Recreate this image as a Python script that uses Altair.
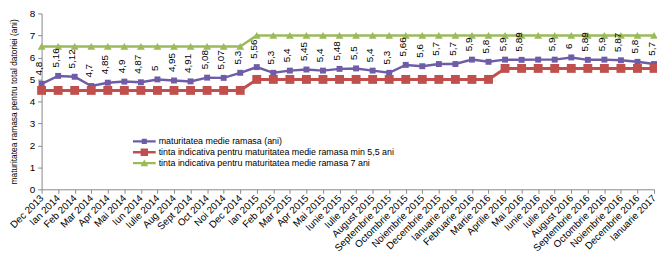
import altair as alt
import pandas as pd

categories = ["Dec 2013", "Ian 2014", "Feb 2014", "Mar 2014", "Apr 2014", "Mai 2014",
              "Iun 2014", "Iulie 2014", "Aug 2014", "Sept 2014", "Oct 2014", "Noi 2014",
              "Dec 2014", "Ian 2015", "Feb 2015", "Mar 2015", "Apr 2015", "Mai 2015",
              "Iunie 2015", "Iulie 2015", "August 2015", "Septembrie 2015", "Octombrie 2015",
              "Noiembrie 2015", "Decembrie 2015", "Ianuarie 2016", "Februarie 2016",
              "Martie 2016", "Aprilie 2016", "Mai 2016", "Iunie 2016", "Iulie 2016",
              "August 2016", "Septembrie 2016", "Octombrie 2016", "Noiembrie 2016",
              "Decembrie 2016", "Ianuarie 2017"]

maturitate = [4.8, 5.16, 5.12, 4.7, 4.85, 4.9, 4.87, 5.0, 4.95, 4.91, 5.08, 5.07,
              5.3, 5.56, 5.3, 5.4, 5.45, 5.4, 5.48, 5.5, 5.4, 5.3, 5.66, 5.6, 5.7,
              5.7, 5.9, 5.8, 5.9, 5.89, 5.9, 5.9, 6.0, 5.89, 5.9, 5.87, 5.8, 5.7]

value_labels = ["4,8", "5,16", "5,12", "4,7", "4,85", "4,9", "4,87", "5", "4,95", "4,91", "5,08", "5,07",
                "5,3", "5,56", "5,3", "5,4", "5,45", "5,4", "5,48", "5,5", "5,4", "5,3", "5,66", "5,6", "5,7",
                "5,7", "5,9", "5,8", "5,9", "5,89", "", "5,9", "6", "5,89", "5,9", "5,87", "5,8", "5,7"]

tinta_min = [4.5, 4.5, 4.5, 4.5, 4.5, 4.5, 4.5, 4.5, 4.5, 4.5, 4.5, 4.5,
             4.5, 5.0, 5.0, 5.0, 5.0, 5.0, 5.0, 5.0, 5.0, 5.0, 5.0, 5.0, 5.0,
             5.0, 5.0, 5.0, 5.5, 5.5, 5.5, 5.5, 5.5, 5.5, 5.5, 5.5, 5.5, 5.5]

tinta_7 = [6.5, 6.5, 6.5, 6.5, 6.5, 6.5, 6.5, 6.5, 6.5, 6.5, 6.5, 6.5,
           6.5, 7.0, 7.0, 7.0, 7.0, 7.0, 7.0, 7.0, 7.0, 7.0, 7.0, 7.0, 7.0,
           7.0, 7.0, 7.0, 7.0, 7.0, 7.0, 7.0, 7.0, 7.0, 7.0, 7.0, 7.0, 7.0]

series = ["maturitatea medie ramasa  (ani)",
          "tinta indicativa pentru maturitatea medie ramasa min 5,5 ani",
          "tinta indicativa pentru maturitatea medie ramasa  7 ani"]
colors = ["#6E5DA6", "#C0504D", "#9BBB59"]
marker_shapes = ["square", "square", "triangle-up"]
marker_sizes = [36, 81, 64]
line_widths = [2.5, 3, 2.5]
legend_paths = [
    "M-4,-0.43H4V0.43H-4Z M-0.9,-0.9H0.9V0.9H-0.9Z",
    "M-4,-0.43H4V0.43H-4Z M-1.3,-1.3H1.3V1.3H-1.3Z",
    "M-4,-0.43H4V0.43H-4Z M0,-1.3L1.35,1.1H-1.35Z",
]

rows = []
for i, c in enumerate(categories):
    rows.append(dict(cat=c, series=series[0], value=maturitate[i], label=value_labels[i]))
    rows.append(dict(cat=c, series=series[1], value=tinta_min[i], label=""))
    rows.append(dict(cat=c, series=series[2], value=tinta_7[i], label=""))
df = pd.DataFrame(rows)

FONT = "Liberation Sans"

x = alt.X("cat:N", sort=categories,
          scale=alt.Scale(type="point", padding=0),
          axis=alt.Axis(title=None, labelAngle=-45, labelAlign="right", labelBaseline="middle",
                        labelFontSize=10, labelFont=FONT, labelColor="#000",
                        labelPadding=3, tickSize=4, tickColor="#888", domainColor="#888",
                        labelOverlap=False, labelLimit=200))
y = alt.Y("value:Q",
          scale=alt.Scale(domain=[0, 8], nice=False, zero=True),
          axis=alt.Axis(values=[0, 1, 2, 3, 4, 5, 6, 7, 8], grid=False,
                        title="maturitatea ramasa pentru total datoriei  (ani)",
                        titleFontSize=8.5, titleFont=FONT, titleFontWeight="normal",
                        titleColor="#000", titlePadding=11,
                        labelFontSize=10, labelFont=FONT, labelColor="#000",
                        labelPadding=3, tickSize=4, tickColor="#888", domainColor="#888"))
color_nolegend = alt.Color("series:N", sort=series,
                           scale=alt.Scale(domain=series, range=colors), legend=None)

base = alt.Chart(df)
layers = []
for s, w in zip(series, line_widths):
    layers.append(base.transform_filter(alt.datum.series == s)
                  .mark_line(strokeWidth=w)
                  .encode(x=x, y=y, color=color_nolegend))
for s, shp, sz in zip(series, marker_shapes, marker_sizes):
    layers.append(base.transform_filter(alt.datum.series == s)
                  .mark_point(shape=shp, size=sz, filled=True, opacity=1, strokeWidth=0)
                  .encode(x=x, y=y, color=color_nolegend))

labels_layer = (base.transform_filter(alt.datum.series == series[0])
                .mark_text(angle=270, align="left", baseline="bottom", dy=2.5, yOffset=-8.5,
                           fontSize=10, font=FONT, color="#000")
                .encode(x=x, y=y, text="label:N"))
layers.append(labels_layer)

leg = alt.Legend(title=None, orient="none", legendX=91, legendY=125, padding=0,
                 rowPadding=1, symbolOffset=8.5, labelOffset=10, labelFontSize=9,
                 labelFont=FONT, labelColor="#000", symbolSize=33, symbolStrokeWidth=0,
                 labelLimit=400, symbolOpacity=1)
legend_layer = (base.transform_filter("datum.value < 0")
                .mark_point(filled=True, size=33, opacity=1, strokeWidth=0)
                .encode(x=x, y=y,
                        color=alt.Color("series:N", sort=series,
                                        scale=alt.Scale(domain=series, range=colors), legend=leg),
                        shape=alt.Shape("series:N", sort=series,
                                        scale=alt.Scale(domain=series, range=legend_paths), legend=leg)))
layers.append(legend_layer)

chart = (alt.layer(*layers)
         .resolve_legend(color="independent", shape="independent")
         .properties(width=620, height=178,
                     autosize=alt.AutoSizeParams(type="none"),
                     padding={"left": 34, "top": 4, "right": 3, "bottom": 68},
                     background="white")
         .configure_view(stroke=None))

chart.save("out.html", embed_options={"renderer": "svg", "actions": False})
